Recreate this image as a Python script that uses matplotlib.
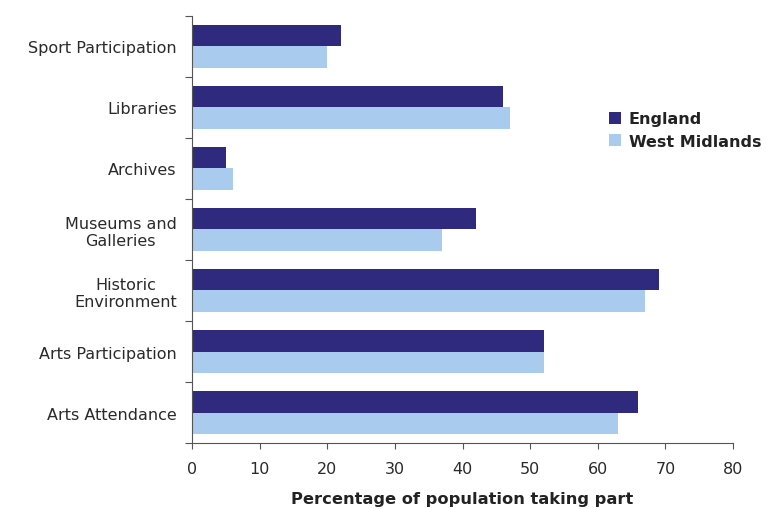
import numpy as np
import matplotlib.pyplot as plt

categories = ["Sport Participation", "Libraries", "Archives", "Museums and\nGalleries",
              "Historic\nEnvironment", "Arts Participation", "Arts Attendance"]
england = [22, 46, 5, 42, 69, 52, 66]
west_midlands = [20, 47, 6, 37, 67, 52, 63]

fig = plt.figure(figsize=(7.66, 5.1), dpi=100)
ax = fig.add_axes([0.2507, 0.1294, 0.7063, 0.8373])

y = np.arange(len(categories))
h = 0.36
ax.barh(y - h / 2, england, height=h, color="#2f2a7e", label="England")
ax.barh(y + h / 2, west_midlands, height=h, color="#a9cbee", label="West Midlands")

ax.set_ylim(len(categories) - 0.5, -0.5)
ax.set_xlim(0, 80)
ax.set_xticks(np.arange(0, 81, 10))

# category labels centred, ticks on the boundaries
ax.set_yticks(np.arange(-0.5, len(categories), 1))
ax.set_yticklabels([])
ax.set_yticks(y, minor=True)
ax.set_yticklabels(categories, minor=True, fontsize=11.5, color="#2a2a2a", multialignment="center")
ax.tick_params(axis="y", which="minor", length=0, pad=11)
ax.tick_params(axis="y", which="major", length=5, color="#555555")
ax.tick_params(axis="x", length=4, color="#555555", labelsize=11.5, labelcolor="#2a2a2a", pad=9)

for s in ["top", "right"]:
    ax.spines[s].set_visible(False)
for s in ["left", "bottom"]:
    ax.spines[s].set_color("#555555")

ax.set_xlabel("Percentage of population taking part", fontsize=11.7, fontweight="bold",
              color="#222222", labelpad=11)

leg = ax.legend(loc="upper left", bbox_to_anchor=(0.745, 0.81), frameon=False,
                handlelength=0.75, handleheight=0.75, handletextpad=0.45, labelspacing=0.45,
                prop={"weight": "bold", "size": 11.5})
for t in leg.get_texts():
    t.set_color("#222222")

fig.savefig("out.png", dpi=100)
